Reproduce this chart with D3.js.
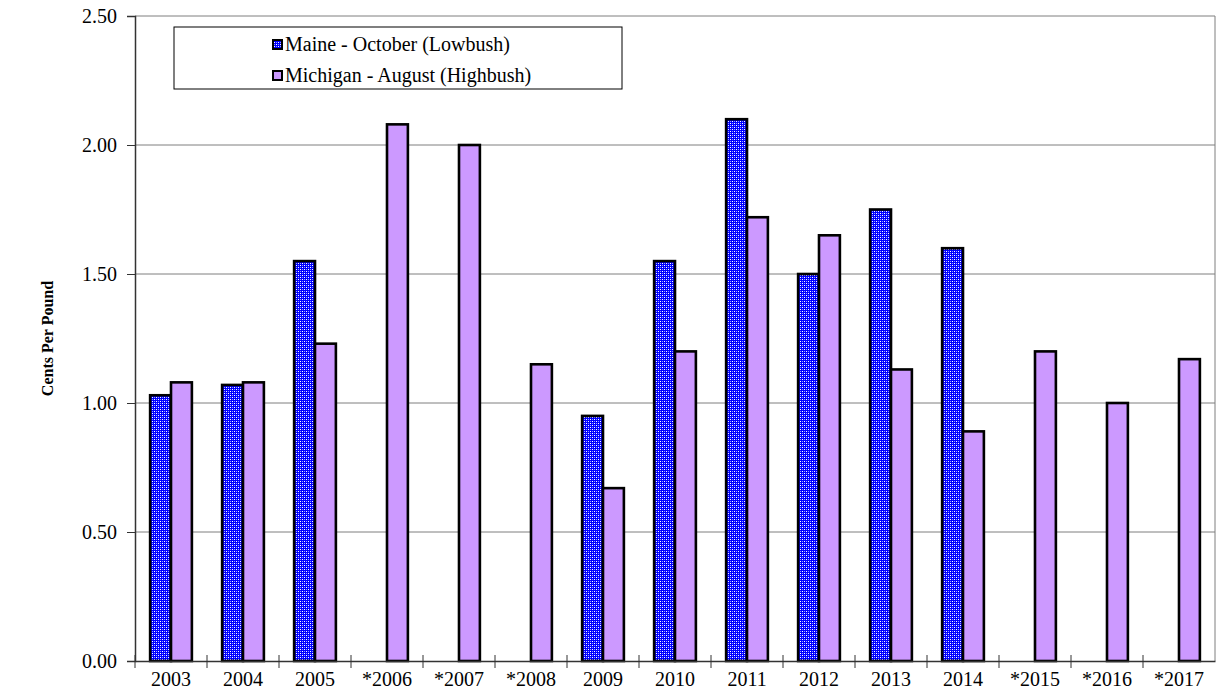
<!DOCTYPE html>
<html>
<head>
<meta charset="utf-8">
<script src="https://cdn.jsdelivr.net/npm/d3@7"></script>
<style>
  body { margin: 0; background: #fff; }
  svg text { font-family: "Liberation Serif", "Times New Roman", serif !important; }
</style>
</head>
<body>
<div id="plot"></div>
<script>
const years = ["2003", "2004", "2005", "*2006", "*2007", "*2008", "2009", "2010",
               "2011", "2012", "2013", "2014", "*2015", "*2016", "*2017"];
const maine = [1.03, 1.07, 1.55, null, null, null, 0.95, 1.55, 2.10, 1.50, 1.75, 1.60, null, null, null];
const michigan = [1.08, 1.08, 1.23, 2.08, 2.00, 1.15, 0.67, 1.20, 1.72, 1.65, 1.13, 0.89, 1.20, 1.00, 1.17];
const seriesNames = ["Maine - October (Lowbush)", "Michigan - August (Highbush)"];
const yTicks = [0, 0.5, 1, 1.5, 2, 2.5];

const svgWidth = 1216, svgHeight = 700;
const margin = { top: 16, right: 1, bottom: 39, left: 135 };
const width = svgWidth - margin.left - margin.right;
const height = svgHeight - margin.top - margin.bottom;

const root = d3.select('#plot')
    .append('svg')
    .attr("width", svgWidth)
    .attr("height", svgHeight)
    .attr("font-family", "Liberation Serif, serif");

// checkered blue fill for Maine
const defs = root.append("defs");
const pat = defs.append("pattern")
    .attr("id", "checks")
    .attr("patternUnits", "userSpaceOnUse")
    .attr("width", 4).attr("height", 4);
pat.append("rect").attr("width", 4).attr("height", 4).attr("fill", "#0000ff");
pat.append("rect").attr("x", 1).attr("y", 1).attr("width", 1).attr("height", 1).attr("fill", "#ffffff");
pat.append("rect").attr("x", 3).attr("y", 3).attr("width", 1).attr("height", 1).attr("fill", "#ffffff");
pat.append("rect").attr("x", 1).attr("y", 3).attr("width", 1).attr("height", 1).attr("fill", "#9999ff");
pat.append("rect").attr("x", 3).attr("y", 1).attr("width", 1).attr("height", 1).attr("fill", "#9999ff");

const svg = root.append("g")
    .attr("transform", "translate(" + margin.left + "," + margin.top + ")");

const x = d3.scaleBand()
    .domain(years)
    .range([0, width]);

const y = d3.scaleLinear()
    .domain([0, 2.5])
    .range([height, 0]);

// gridlines
svg.selectAll("line.grid")
    .data(yTicks.slice(1))
    .enter()
    .append("line")
    .attr("class", "grid")
    .attr("x1", 0)
    .attr("x2", width)
    .attr("y1", d => y(d))
    .attr("y2", d => y(d))
    .attr("stroke", "#7f7f7f")
    .attr("stroke-width", 1);

// right border
svg.append("line")
    .attr("x1", width).attr("x2", width)
    .attr("y1", 0).attr("y2", height)
    .attr("stroke", "#7f7f7f");

const barW = x.bandwidth() * 0.29;

// Maine bars
svg.selectAll("rect.maine")
    .data(years.map((d, i) => ({ year: d, v: maine[i] })).filter(d => d.v !== null))
    .enter()
    .append("rect")
    .attr("class", "maine")
    .attr("x", d => x(d.year) + x.bandwidth() / 2 - barW)
    .attr("y", d => y(d.v))
    .attr("width", barW)
    .attr("height", d => y(0) - y(d.v))
    .attr("fill", "url(#checks)")
    .attr("stroke", "#000")
    .attr("stroke-width", 2.6);

// Michigan bars
svg.selectAll("rect.mich")
    .data(years.map((d, i) => ({ year: d, v: michigan[i] })))
    .enter()
    .append("rect")
    .attr("class", "mich")
    .attr("x", d => x(d.year) + x.bandwidth() / 2)
    .attr("y", d => y(d.v))
    .attr("width", barW)
    .attr("height", d => y(0) - y(d.v))
    .attr("fill", "#cc99ff")
    .attr("stroke", "#000")
    .attr("stroke-width", 2.6);

// Y axis
const yAxis = svg.append("g")
    .call(d3.axisLeft(y).tickValues(yTicks).tickFormat(d3.format(".2f")).tickSize(8).tickPadding(10));
yAxis.attr("font-family", "Liberation Serif, serif").attr("font-size", 20);
yAxis.select(".domain").attr("stroke", "#333").attr("stroke-width", 1.5);
yAxis.selectAll(".tick line").attr("stroke", "#333");
yAxis.selectAll("text").attr("fill", "#000");

// X axis
const xAxis = svg.append("g")
    .attr("transform", "translate(0," + height + ")")
    .call(d3.axisBottom(x).tickSize(0).tickPadding(11));
xAxis.attr("font-family", "Liberation Serif, serif").attr("font-size", 20);
xAxis.select(".domain").attr("stroke", "#333").attr("stroke-width", 1.5);
xAxis.selectAll("text").attr("fill", "#000");
xAxis.selectAll("line.sep")
    .data(years)
    .enter()
    .append("line")
    .attr("class", "sep")
    .attr("x1", d => x(d)).attr("x2", d => x(d))
    .attr("y1", -6).attr("y2", 7)
    .attr("stroke", "#333");

// Y label
root.append("text")
    .attr("transform", "translate(53," + (margin.top + height / 2) + ") rotate(-90)")
    .attr("text-anchor", "middle")
    .attr("font-size", 16)
    .attr("font-weight", "bold")
    .text("Cents Per Pound");

// Legend
const legend = root.append("g").attr("transform", "translate(174,27)");
legend.append("rect")
    .attr("width", 448).attr("height", 62)
    .attr("fill", "#fff").attr("stroke", "#000").attr("stroke-width", 1);
const fills = ["url(#checks)", "#cc99ff"];
seriesNames.forEach(function(name, i) {
    const row = legend.append("g").attr("transform", "translate(99," + (18 + i * 31) + ")");
    row.append("rect")
        .attr("x", 0).attr("y", -5).attr("width", 9).attr("height", 9)
        .attr("fill", fills[i]).attr("stroke", "#000").attr("stroke-width", 2);
    row.append("text")
        .attr("x", 12).attr("y", 6)
        .attr("font-size", 20)
        .text(name);
});
</script>
</body>
</html>
